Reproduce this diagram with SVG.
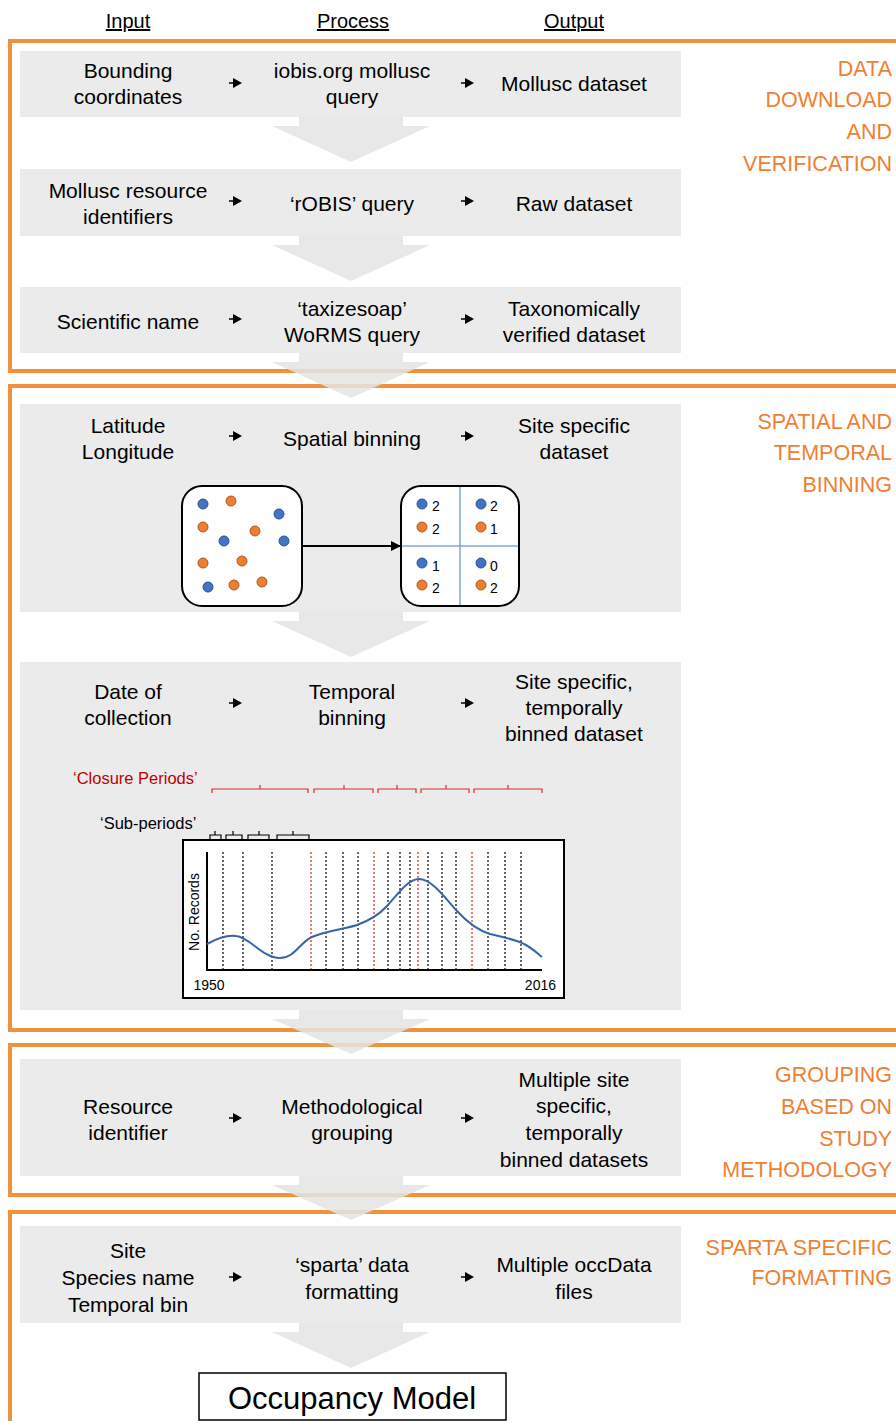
<svg xmlns="http://www.w3.org/2000/svg" width="896" height="1421" viewBox="0 0 896 1421">
  <style>
    .t { font-family: "Liberation Sans", Arial, sans-serif; font-size: 21px; fill: #000; text-anchor: middle; }
    .h { font-family: "Liberation Sans", Arial, sans-serif; font-size: 20px; fill: #000; text-anchor: middle; text-decoration: underline; }
    .sec { font-family: "Liberation Sans", Arial, sans-serif; font-size: 21.5px; fill: #EE7F33; text-anchor: end; }
    .frame { fill: none; stroke: #F0913F; stroke-width: 4; }
    .row { fill: #EBEBEB; }
    .chev { fill: #E4E4E4; fill-opacity: 0.85; }
    .step { fill: #000; }
    .stem { stroke: #000; stroke-width: 1.5; }
    .bdot { fill: #4472C4; stroke: #2F528F; stroke-width: 1; }
    .odot { fill: #ED7D31; stroke: #AE5A21; stroke-width: 1; }
    .num { font-family: "Liberation Sans", Arial, sans-serif; font-size: 14px; fill: #000; }
    .small { font-family: "Liberation Sans", Arial, sans-serif; font-size: 16.5px; }
    .vb { stroke: #000; stroke-width: 1.2; stroke-dasharray: 2 2; }
    .vr { stroke: #E02020; stroke-width: 1.2; stroke-dasharray: 2 2; }
    .brR { fill: none; stroke: #D03030; stroke-width: 1.2; }
    .brK { fill: none; stroke: #000; stroke-width: 1.2; }
  </style>
  <defs>
    <!-- small step arrow used between columns -->
    <g id="step">
      <line class="stem" x1="229" y1="0" x2="235" y2="0"/>
      <polygon class="step" points="233,-5 242,0 233,5"/>
    </g>
    <marker id="ah" markerWidth="10" markerHeight="10" refX="9" refY="5" orient="auto" markerUnits="userSpaceOnUse">
      <path d="M0,0 L10,5 L0,10 z" fill="#000"/>
    </marker>
  </defs>

  <rect width="896" height="1421" fill="#fff"/>

  <!-- column headers -->
  <g id="headers">
    <text class="h" x="128" y="28">Input</text>
    <text class="h" x="353" y="28">Process</text>
    <text class="h" x="574" y="28">Output</text>
  </g>

  <!-- stage frames -->
  <g id="frames">
    <rect class="frame" x="10" y="41" width="900" height="330"/>
    <rect class="frame" x="10" y="386" width="900" height="644"/>
    <rect class="frame" x="10" y="1045" width="900" height="150"/>
    <rect class="frame" x="10" y="1212" width="900" height="230"/>
  </g>

  <!-- stage titles -->
  <g id="stage-titles">
    <text class="sec" x="892" y="76">DATA</text>
    <text class="sec" x="892" y="107">DOWNLOAD</text>
    <text class="sec" x="892" y="139">AND</text>
    <text class="sec" x="892" y="171">VERIFICATION</text>
    <text class="sec" x="892" y="429">SPATIAL AND</text>
    <text class="sec" x="892" y="460">TEMPORAL</text>
    <text class="sec" x="892" y="492">BINNING</text>
    <text class="sec" x="892" y="1082">GROUPING</text>
    <text class="sec" x="892" y="1114">BASED ON</text>
    <text class="sec" x="892" y="1146">STUDY</text>
    <text class="sec" x="892" y="1177">METHODOLOGY</text>
    <text class="sec" x="892" y="1255">SPARTA SPECIFIC</text>
    <text class="sec" x="892" y="1285">FORMATTING</text>
  </g>

  <!-- step 1 -->
  <g id="row1">
    <rect class="row" x="20" y="51" width="661" height="66"/>
    <text class="t" x="128" y="78">Bounding</text>
    <text class="t" x="128" y="104">coordinates</text>
    <text class="t" x="352" y="78">iobis.org mollusc</text>
    <text class="t" x="352" y="104">query</text>
    <text class="t" x="574" y="91">Mollusc dataset</text>
  </g>
  <g id="row2">
    <rect class="row" x="20" y="169" width="661" height="67"/>
    <text class="t" x="128" y="198">Mollusc resource</text>
    <text class="t" x="128" y="224">identifiers</text>
    <text class="t" x="352" y="211">‘rOBIS’ query</text>
    <text class="t" x="574" y="211">Raw dataset</text>
  </g>
  <g id="row3">
    <rect class="row" x="20" y="287" width="661" height="66"/>
    <text class="t" x="128" y="329">Scientific name</text>
    <text class="t" x="352" y="316">‘taxizesoap’</text>
    <text class="t" x="352" y="342">WoRMS query</text>
    <text class="t" x="574" y="316">Taxonomically</text>
    <text class="t" x="574" y="342">verified dataset</text>
  </g>

  <!-- step 2: spatial binning -->
  <g id="row4">
    <rect class="row" x="20" y="404" width="661" height="208"/>
    <text class="t" x="128" y="433">Latitude</text>
    <text class="t" x="128" y="459">Longitude</text>
    <text class="t" x="352" y="446">Spatial binning</text>
    <text class="t" x="574" y="433">Site specific</text>
    <text class="t" x="574" y="459">dataset</text>
  </g>
  <g id="points-box">
    <rect x="182" y="486" width="120" height="120" rx="20" fill="#fff" stroke="#000" stroke-width="2"/>
    <circle class="bdot" cx="203" cy="504" r="5"/>
    <circle class="odot" cx="231" cy="501" r="5"/>
    <circle class="bdot" cx="279" cy="514" r="5"/>
    <circle class="odot" cx="203" cy="527" r="5"/>
    <circle class="odot" cx="255" cy="531" r="5"/>
    <circle class="bdot" cx="224" cy="541" r="5"/>
    <circle class="bdot" cx="284" cy="541" r="5"/>
    <circle class="odot" cx="203" cy="563" r="5"/>
    <circle class="odot" cx="242" cy="561" r="5"/>
    <circle class="bdot" cx="208" cy="587" r="5"/>
    <circle class="odot" cx="234" cy="585" r="5"/>
    <circle class="odot" cx="262" cy="582" r="5"/>
  </g>
  <g id="grid-box">
    <rect x="401" y="486" width="118" height="120" rx="20" fill="#fff" stroke="#000" stroke-width="2"/>
    <line x1="460" y1="487" x2="460" y2="605" stroke="#7FA6DB" stroke-width="1.5"/>
    <line x1="402" y1="546" x2="518" y2="546" stroke="#7FA6DB" stroke-width="1.5"/>
    <circle class="bdot" cx="422" cy="504" r="5"/><text class="num" x="432" y="511">2</text>
    <circle class="odot" cx="422" cy="527" r="5"/><text class="num" x="432" y="534">2</text>
    <circle class="bdot" cx="481" cy="504" r="5"/><text class="num" x="490" y="511">2</text>
    <circle class="odot" cx="481" cy="527" r="5"/><text class="num" x="490" y="534">1</text>
    <circle class="bdot" cx="422" cy="563" r="5"/><text class="num" x="432" y="571">1</text>
    <circle class="odot" cx="422" cy="585" r="5"/><text class="num" x="432" y="593">2</text>
    <circle class="bdot" cx="481" cy="563" r="5"/><text class="num" x="490" y="571">0</text>
    <circle class="odot" cx="481" cy="585" r="5"/><text class="num" x="490" y="593">2</text>
  </g>

  <!-- step 3: temporal binning -->
  <g id="row5">
    <rect class="row" x="20" y="662" width="661" height="348"/>
    <text class="t" x="128" y="699">Date of</text>
    <text class="t" x="128" y="725">collection</text>
    <text class="t" x="352" y="699">Temporal</text>
    <text class="t" x="352" y="725">binning</text>
    <text class="t" x="574" y="689">Site specific,</text>
    <text class="t" x="574" y="715">temporally</text>
    <text class="t" x="574" y="741">binned dataset</text>
  </g>
  <g id="period-brackets">
    <text class="small" x="73" y="784" fill="#C00000">‘Closure Periods’</text>
    <path class="brR" d="M212,793 V789 H308 V793 M260,789 V785"/>
    <path class="brR" d="M314,793 V789 H373 V793 M344,789 V785"/>
    <path class="brR" d="M378,793 V789 H416 V793 M397,789 V785"/>
    <path class="brR" d="M421,793 V789 H469 V793 M446,789 V785"/>
    <path class="brR" d="M474,793 V789 H542 V793 M508,789 V785"/>
    <text class="small" x="100" y="829" fill="#000">‘Sub-periods’</text>
    <path class="brK" d="M210,840 V835 H221 V840 M215,835 V831"/>
    <path class="brK" d="M226,840 V835 H242 V840 M233,835 V831"/>
    <path class="brK" d="M248,840 V835 H269 V840 M259,835 V831"/>
    <path class="brK" d="M277,840 V835 H309 V840 M293,835 V831"/>
  </g>
  <g id="records-chart">
    <rect x="183" y="840" width="381" height="158" fill="#fff" stroke="#000" stroke-width="2"/>
    <line class="vb" x1="223" y1="852" x2="223" y2="970"/>
    <line class="vb" x1="243" y1="852" x2="243" y2="970"/>
    <line class="vb" x1="272" y1="852" x2="272" y2="970"/>
    <line class="vr" x1="311" y1="852" x2="311" y2="970"/>
    <line class="vb" x1="326" y1="852" x2="326" y2="970"/>
    <line class="vb" x1="343" y1="852" x2="343" y2="970"/>
    <line class="vb" x1="358" y1="852" x2="358" y2="970"/>
    <line class="vr" x1="374" y1="852" x2="374" y2="970"/>
    <line class="vb" x1="388" y1="852" x2="388" y2="970"/>
    <line class="vb" x1="400" y1="852" x2="400" y2="970"/>
    <line class="vb" x1="410" y1="852" x2="410" y2="970"/>
    <line class="vr" x1="418" y1="852" x2="418" y2="970"/>
    <line class="vb" x1="428" y1="852" x2="428" y2="970"/>
    <line class="vb" x1="442" y1="852" x2="442" y2="970"/>
    <line class="vb" x1="456" y1="852" x2="456" y2="970"/>
    <line class="vr" x1="472" y1="852" x2="472" y2="970"/>
    <line class="vb" x1="488" y1="852" x2="488" y2="970"/>
    <line class="vb" x1="505" y1="852" x2="505" y2="970"/>
    <line class="vb" x1="521" y1="852" x2="521" y2="970"/>
    <path d="M207,852 V970 H542" fill="none" stroke="#000" stroke-width="2"/>
    <path d="M207,944 C218,938 228,935 236,936 C250,937 262,958 280,958 C295,958 300,942 312,937 C325,931 345,929 357,925 C368,921 378,916 387,906 C398,894 408,879 419,879 C432,879 445,898 457,911 C467,922 477,930 490,934 C505,938 515,939 524,944 C532,948 537,953 542,957" fill="none" stroke="#3A64A8" stroke-width="2"/>
    <text class="num" x="199" y="912" transform="rotate(-90 199 912)" text-anchor="middle">No. Records</text>
    <text class="num" x="209" y="990" text-anchor="middle">1950</text>
    <text class="num" x="556" y="990" text-anchor="end">2016</text>
  </g>

  <!-- step 4: grouping -->
  <g id="row6">
    <rect class="row" x="20" y="1059" width="661" height="117"/>
    <text class="t" x="128" y="1114">Resource</text>
    <text class="t" x="128" y="1140">identifier</text>
    <text class="t" x="352" y="1114">Methodological</text>
    <text class="t" x="352" y="1140">grouping</text>
    <text class="t" x="574" y="1087">Multiple site</text>
    <text class="t" x="574" y="1113">specific,</text>
    <text class="t" x="574" y="1140">temporally</text>
    <text class="t" x="574" y="1167">binned datasets</text>
  </g>

  <!-- step 5: sparta formatting -->
  <g id="row7">
    <rect class="row" x="20" y="1226" width="661" height="97"/>
    <text class="t" x="128" y="1258">Site</text>
    <text class="t" x="128" y="1285">Species name</text>
    <text class="t" x="128" y="1312">Temporal bin</text>
    <text class="t" x="352" y="1272">‘sparta’ data</text>
    <text class="t" x="352" y="1299">formatting</text>
    <text class="t" x="574" y="1272">Multiple occData</text>
    <text class="t" x="574" y="1299">files</text>
  </g>

  <g id="occupancy-model">
    <rect x="199" y="1373" width="307" height="47" fill="#fff" stroke="#000" stroke-width="1.5"/>
    <text class="t" x="352" y="1409" style="font-size:31px">Occupancy Model</text>
  </g>

  <!-- connectors -->
  <g id="connectors">
    <use href="#step" y="83"/><use href="#step" x="232" y="83"/>
    <use href="#step" y="201"/><use href="#step" x="232" y="201"/>
    <use href="#step" y="319"/><use href="#step" x="232" y="319"/>
    <use href="#step" y="436"/><use href="#step" x="232" y="436"/>
    <use href="#step" y="703"/><use href="#step" x="232" y="703"/>
    <use href="#step" y="1118"/><use href="#step" x="232" y="1118"/>
    <use href="#step" y="1277"/><use href="#step" x="232" y="1277"/>
    <line x1="302" y1="546" x2="400" y2="546" stroke="#000" stroke-width="2" marker-end="url(#ah)"/>
    <!-- broad downward block arrows between steps -->
    <path class="chev" d="M299,117 H403 V126 H430 L351,162 L272,126 H299 Z"/>
    <path class="chev" d="M299,236 H403 V245 H430 L351,281 L272,245 H299 Z"/>
    <path class="chev" d="M299,353 H403 V362 H430 L351,398 L272,362 H299 Z"/>
    <path class="chev" d="M299,612 H403 V621 H430 L351,657 L272,621 H299 Z"/>
    <path class="chev" d="M299,1010 H403 V1019 H430 L351,1054 L272,1019 H299 Z"/>
    <path class="chev" d="M299,1176 H403 V1185 H430 L351,1220 L272,1185 H299 Z"/>
    <path class="chev" d="M299,1323 H403 V1332 H430 L351,1368 L272,1332 H299 Z"/>
  </g>
</svg>
